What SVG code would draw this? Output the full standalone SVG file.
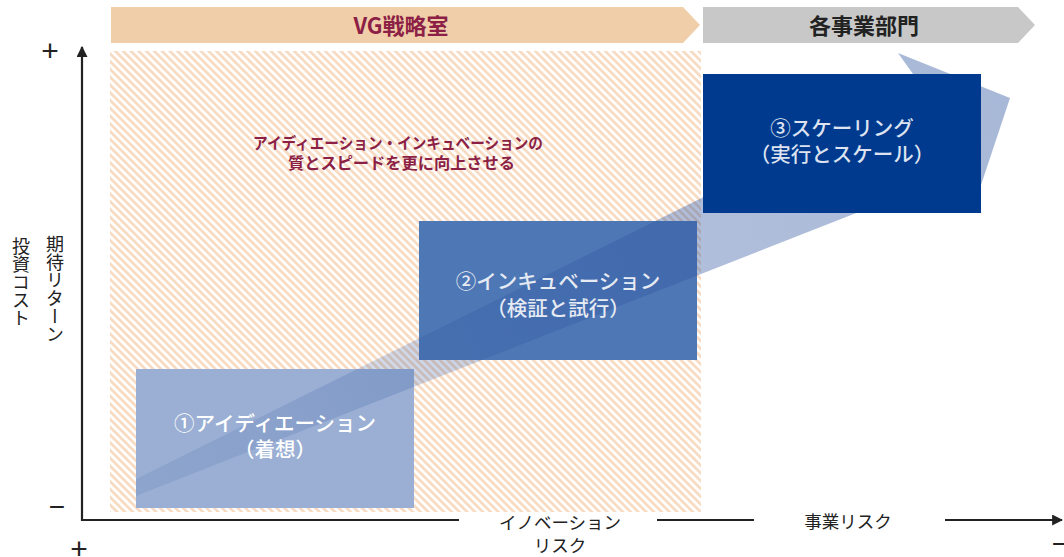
<svg xmlns="http://www.w3.org/2000/svg" width="1064" height="557" viewBox="0 0 1064 557">
  <style>
    .jp { font-family: "Noto Sans CJK JP", "Noto Sans", sans-serif; }
    .banner { font-size: 22px; font-weight: bold; text-anchor: middle; }
    .box-t { font-size: 20.5px; font-weight: 500; text-anchor: middle; }
    .axis-t { font-size: 17.5px; fill: #222; text-anchor: middle; }
    .vert { font-size: 18px; fill: #222; writing-mode: vertical-rl; }
    .sign { font-family: "Liberation Sans", sans-serif; fill: #222; text-anchor: middle; }
    .axis { stroke: #222; stroke-width: 2.2; fill: none; }
  </style>
  <defs>
    <pattern id="hatch" patternUnits="userSpaceOnUse" width="5.5" height="10" patternTransform="rotate(-45)">
      <rect x="0" y="0" width="5.5" height="10" fill="#ffffff"/>
      <rect x="0" y="0" width="2.8" height="10" fill="#f7dbc2"/>
    </pattern>
    <linearGradient id="arrowGrad" gradientUnits="userSpaceOnUse" x1="136" y1="490" x2="1010" y2="98">
      <stop offset="0" stop-color="#2f55a0" stop-opacity="0.12"/>
      <stop offset="0.15" stop-color="#2f55a0" stop-opacity="0.15"/>
      <stop offset="0.64" stop-color="#2f55a0" stop-opacity="0.38"/>
      <stop offset="1" stop-color="#2f55a0" stop-opacity="0.42"/>
    </linearGradient>
    <marker id="ah" viewBox="0 0 10 10" refX="9" refY="5" markerWidth="5" markerHeight="5" markerUnits="strokeWidth" orient="auto">
      <path d="M0,0 L10,5 L0,10 z" fill="#222"/>
    </marker>
  </defs>

  <!-- banners -->
  <g id="banner-vg">
    <polygon points="111,7 683,7 700,25 683,43 111,43" fill="#f0cea9"/>
    <text class="jp banner" x="401" y="33.5" fill="#8c1f45">VG戦略室</text>
  </g>
  <g id="banner-biz">
    <polygon points="703,7 1018,7 1035,25 1018,43 703,43" fill="#c8c8c8"/>
    <text class="jp banner" x="864" y="33.5" fill="#222">各事業部門</text>
  </g>

  <!-- VG area -->
  <g id="vg-area">
    <rect x="110" y="51" width="591" height="461" fill="url(#hatch)"/>
    <text class="jp" x="398" y="148.5" font-size="16" font-weight="bold" fill="#8c1f45" text-anchor="middle" textLength="290" lengthAdjust="spacingAndGlyphs">アイディエーション・インキュベーションの</text>
    <text class="jp" x="401.5" y="168.5" font-size="16" font-weight="bold" fill="#8c1f45" text-anchor="middle" textLength="227" lengthAdjust="spacingAndGlyphs">質とスピードを更に向上させる</text>
  </g>

  <!-- axes -->
  <g id="connectors">
    <line class="axis" x1="82" y1="521" x2="82" y2="47" marker-end="url(#ah)"/>
    <line class="axis" x1="81" y1="520" x2="459" y2="520"/>
    <line class="axis" x1="657" y1="520" x2="754" y2="520"/>
    <line class="axis" x1="945" y1="520" x2="1062" y2="520" marker-end="url(#ah)"/>
  </g>

  <!-- boxes -->
  <g id="box1"><rect x="136" y="369" width="278" height="139" fill="#9aafd3"/></g>
  <g id="box2"><rect x="419" y="221" width="278" height="139" fill="#4d77b5"/></g>

  <!-- big translucent arrow -->
  <g id="growth-arrow">
    <polygon points="136,479 923,88 898,53 1010,98 972,212 948,177 136,496" fill="url(#arrowGrad)"/>
  </g>

  <g id="box3"><rect x="703" y="74" width="278" height="139" fill="#003a8f"/></g>

  <!-- box labels -->
  <g id="box1-label">
    <text class="jp box-t" x="275" y="431" fill="#ffffff">①アイディエーション</text>
    <text class="jp box-t" x="275" y="457" fill="#ffffff">（着想）</text>
  </g>
  <g id="box2-label">
    <text class="jp box-t" x="558" y="289" fill="#e6ebf3">②インキュベーション</text>
    <text class="jp box-t" x="558" y="316" fill="#e6ebf3">（検証と試行）</text>
  </g>
  <g id="box3-label">
    <text class="jp box-t" x="842" y="135.5" fill="#dde3ef">③スケーリング</text>
    <text class="jp box-t" x="842" y="162" fill="#dde3ef">（実行とスケール）</text>
  </g>

  <!-- axis labels -->
  <g id="axis-labels">
    <text class="jp axis-t" x="560" y="528.5">イノベーション</text>
    <text class="jp axis-t" x="560" y="551.5">リスク</text>
    <text class="jp axis-t" x="848" y="528">事業リスク</text>
    <text class="jp vert" x="55" y="235">期待リターン</text>
    <text class="jp vert" x="21" y="237">投資コスト</text>
    <text class="sign" x="50" y="60.5" font-size="30">+</text>
    <text class="sign" x="57" y="516" font-size="28">−</text>
    <text class="sign" x="79" y="558.5" font-size="30">+</text>
    <text class="sign" x="1060" y="553" font-size="28">−</text>
  </g>
</svg>
